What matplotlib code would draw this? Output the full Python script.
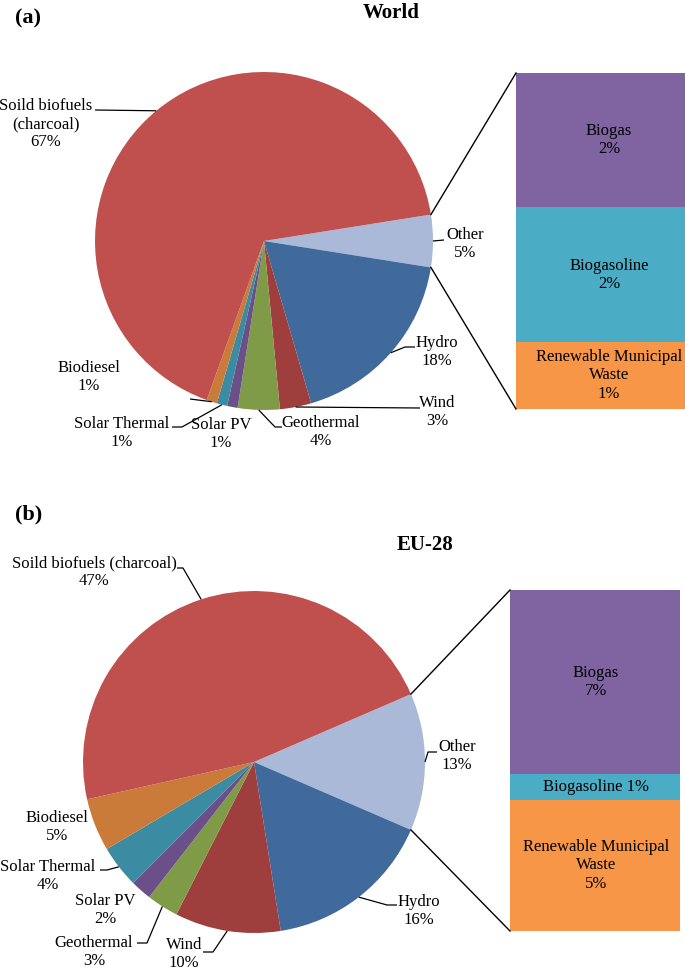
import numpy as np
import matplotlib
matplotlib.use('Agg')
import matplotlib.pyplot as plt

plt.rcParams['font.family'] = ['Liberation Serif', 'DejaVu Serif']

# Data (percent of renewable energy)
sources = ['Other', 'Hydro', 'Wind', 'Geothermal', 'Solar PV', 'Solar Thermal', 'Biodiesel',
           'Soild biofuels (charcoal)']
world_values = [5, 18, 3, 4, 1, 1, 1, 67]
eu_values = [13, 16, 10, 3, 2, 4, 5, 47]

other_sources = ['Biogas', 'Biogasoline', 'Renewable Municipal Waste']
world_other_values = [2, 2, 1]
eu_other_values = [7, 1, 5]

pie_colors = ['#AAB9D7', '#416A9C', '#9E3F3E', '#7F9B48', '#6A4F88', '#3B8BA3', '#CB7B39', '#C0504D']
bar_colors = ['#8064A2', '#4BACC6', '#F79646']

W, H = 685, 975
FS = 12
LS = 1.18

fig = plt.figure(figsize=(W / 100, H / 100), dpi=100)
ax = fig.add_axes([0, 0, 1, 1])


def px(x, y):
    # pixel coords (origin top-left) -> data coords
    return x, H - y


def panel(values, other_values, center, radius, bar_box, label_text, label_pos, leaders,
          bar_text, bar_text_pos):
    cx, cy = px(*center)
    other_angle = values[0] / sum(values) * 360
    start = other_angle / 2
    ax.pie(values, colors=pie_colors, center=(cx, cy), radius=radius, startangle=start,
           counterclock=False, wedgeprops=dict(linewidth=0))

    # leader lines from wedge edge
    cum = np.cumsum([0] + list(values))
    for i, pts in leaders.items():
        mid = start - (cum[i] + values[i] / 2) / sum(values) * 360
        sx = cx + radius * np.cos(np.radians(mid))
        sy = cy + radius * np.sin(np.radians(mid))
        xs = [sx] + [p[0] for p in pts]
        ys = [sy] + [H - p[1] for p in pts]
        ax.plot(xs, ys, color='black', lw=0.9, solid_capstyle='butt')

    for i, (x, y) in enumerate(label_pos):
        ax.text(*px(x, y), f'{label_text[i]}\n{values[i]}%', ha='center', va='center',
                fontsize=FS, linespacing=LS)

    # stacked bar for "Other"
    left, top, width, bottom = bar_box
    total_h = bottom - top
    scale = total_h / sum(other_values)
    base = H - bottom
    seg_centers = []
    for v, c in zip(other_values[::-1], bar_colors[::-1]):
        ax.bar(left, v * scale, width=width, bottom=base, align='edge', color=c, linewidth=0)
        seg_centers.append(base + v * scale / 2)
        base += v * scale
    seg_centers = seg_centers[::-1]
    for i, txt in enumerate(bar_text):
        ax.text(bar_text_pos, seg_centers[i], txt,
                ha='center', va='center', fontsize=FS, linespacing=LS)

    # connector lines
    for ang, by in [(start, top), (start - other_angle, bottom)]:
        ex = cx + radius * np.cos(np.radians(ang))
        ey = cy + radius * np.sin(np.radians(ang))
        ax.plot([ex, left], [ey, H - by], color='black', lw=1.0)


# (a) World
panel(world_values, world_other_values, center=(264, 241), radius=169,
      bar_box=(516, 73, 190, 409),
      label_text=['Other', 'Hydro', 'Wind', 'Geothermal', 'Solar PV', 'Solar Thermal', 'Biodiesel',
                  'Soild biofuels\n(charcoal)'],
      label_pos=[(465, 244), (437, 352), (437, 412), (321, 432), (221, 434), (122, 433),
                 (89, 377), (46, 124)],
      leaders={0: [(444, 240)], 1: [(405, 347), (415, 347)], 2: [(420, 408)],
               3: [(275, 427), (282, 427)], 5: [(182, 427), (172, 427)],
               6: [(190, 399)], 7: [(95, 110)]},
      bar_text=[f'{other_sources[0]}\n{world_other_values[0]}%',
                f'{other_sources[1]}\n{world_other_values[1]}%',
                f'Renewable Municipal\nWaste\n{world_other_values[2]}%'],
      bar_text_pos=609)

# (b) EU-28
panel(eu_values, eu_other_values, center=(254, 762), radius=171,
      bar_box=(510, 590, 170, 931),
      label_text=sources,
      label_pos=[(457, 756), (419, 911), (184, 954), (94, 952), (105, 910), (48, 876),
                 (57, 827), (94, 572)],
      leaders={0: [(428, 752), (437, 752)], 1: [(387, 905), (397, 905)],
               2: [(213, 952), (203, 952)], 3: [(147, 943), (137, 943)],
               5: [(107, 870), (100, 870)], 7: [(183, 568), (177, 568)]},
      bar_text=[f'{other_sources[0]}\n{eu_other_values[0]}%',
                f'{other_sources[1]} {eu_other_values[1]}%',
                f'Renewable Municipal\nWaste\n{eu_other_values[2]}%'],
      bar_text_pos=596)

ax.text(*px(28, 18), '(a)', ha='center', va='center', fontsize=16, fontweight='bold')
ax.text(*px(391, 13), 'World', ha='center', va='center', fontsize=15, fontweight='bold')
ax.text(*px(29, 514), '(b)', ha='center', va='center', fontsize=16, fontweight='bold')
ax.text(*px(425, 545), 'EU-28', ha='center', va='center', fontsize=15, fontweight='bold')

ax.set_xlim(0, W)
ax.set_ylim(0, H)
ax.set_aspect('equal')
ax.axis('off')

fig.savefig('out.png', dpi=100)
